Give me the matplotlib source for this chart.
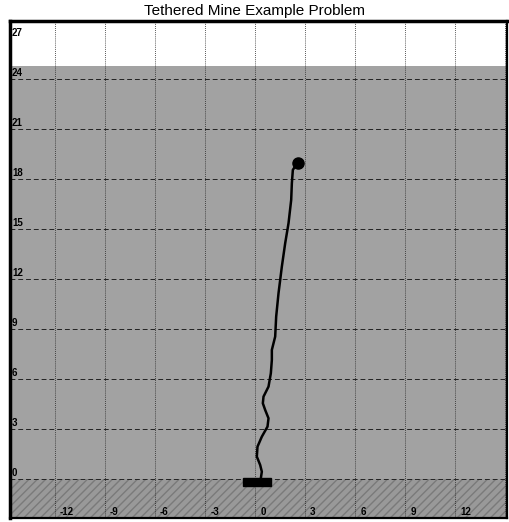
import numpy as np
import matplotlib
matplotlib.use("Agg")
import matplotlib.pyplot as plt
from matplotlib.patches import Rectangle

plt.rcParams["font.family"] = ["Liberation Sans", "DejaVu Sans"]

# tether shape, anchor to mine (x, height above seabed)
cable_x = [0.34, 0.40, 0.30, 0.10, 0.14, 0.40, 0.74, 0.80, 0.60, 0.46, 0.50,
           0.80, 0.94, 1.00, 1.00, 1.20, 1.26, 1.40, 1.60, 1.80, 2.00, 2.16,
           2.20, 2.26, 2.54]
cable_y = [0.04, 0.44, 0.84, 1.34, 1.94, 2.54, 3.14, 3.64, 4.14, 4.54, 4.94,
           5.54, 6.34, 7.14, 7.74, 8.54, 9.74, 11.14, 12.74, 14.14, 15.34,
           16.74, 17.74, 18.54, 18.97]
mine_x, mine_y = 2.54, 18.97
anchor_x = [-0.75, 0.92]
anchor_y = [-0.45, 0.05]
surface_y = 24.8

x_ticks = [-12, -9, -6, -3, 0, 3, 6, 9, 12]
y_ticks = [0, 3, 6, 9, 12, 15, 18, 21, 24, 27]

xlim = (-14.7, 15.1)
ylim = (-2.34, 27.47)

fig = plt.figure(figsize=(5.1, 5.22), dpi=100)
ax = fig.add_axes([10 / 510, 4 / 522, 497 / 510, 497 / 522])
ax.set_xlim(*xlim)
ax.set_ylim(*ylim)

# water column and seabed
ax.axhspan(0, surface_y, color="#a2a2a2", lw=0, zorder=0)
ax.axhspan(ylim[0], 0, facecolor="#999999", edgecolor="#7a7a7a",
           hatch="////", lw=0, zorder=0)

for x in x_ticks + [15]:
    ax.axvline(x, color="#222222", ls=(0, (1, 1.5)), lw=0.6, zorder=1)
for y in y_ticks[:-1]:
    ax.axhline(y, color="#222222", ls=(0, (5, 3)), lw=0.7, zorder=1)

ax.plot(cable_x, cable_y, color="black", lw=1.8, zorder=3,
        solid_capstyle="round", solid_joinstyle="round")
ax.plot(mine_x, mine_y, "o", color="black", ms=8, zorder=4)
ax.add_patch(Rectangle((anchor_x[0], anchor_y[0]), anchor_x[1] - anchor_x[0],
                       anchor_y[1] - anchor_y[0], color="black", zorder=4))

# labels drawn inside the frame
for y in y_ticks:
    ax.text(xlim[0] + 0.12, y + 0.05, str(y), fontsize=7, fontweight="bold",
            va="bottom" if y < 27 else "top", ha="left", zorder=5)
for x in x_ticks:
    ax.text(x + 0.3, ylim[0] + 0.05, str(x), fontsize=7, fontweight="bold",
            va="bottom", ha="left", zorder=5)

ax.set_xticks([])
ax.set_yticks([])
for side, sp in ax.spines.items():
    sp.set_linewidth(2.5 if side in ("left", "top") else 1.6)

fig.text(0.5, 0.993, "Tethered Mine Example Problem", ha="center", va="top",
         fontsize=11)

fig.savefig("out.png", dpi=100)
